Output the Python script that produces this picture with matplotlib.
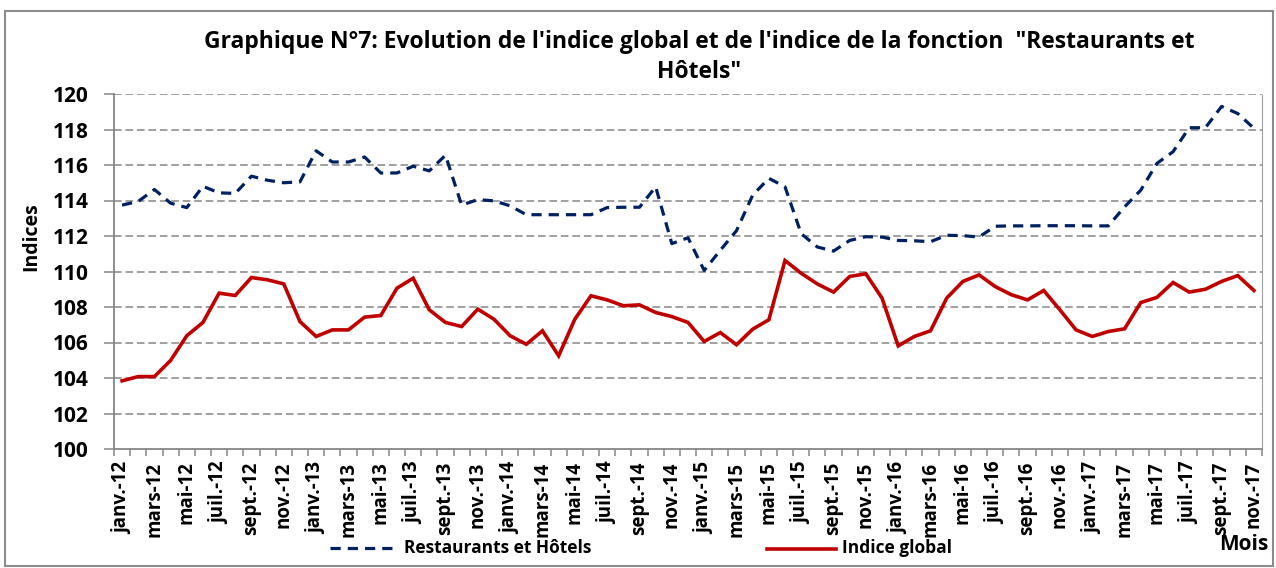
import matplotlib
matplotlib.use("Agg")
import matplotlib.pyplot as plt
from matplotlib.patches import Rectangle
from matplotlib.lines import Line2D

plt.rcParams['font.family'] = ['Open Sans', 'DejaVu Sans']

months = ["janv.", "févr.", "mars", "avr.", "mai", "juin", "juil.", "août", "sept.", "oct.", "nov.", "déc."]
years = ["12", "13", "14", "15", "16", "17"]
categories = [f"{m}-{y}" for y in years for m in months][:71]

restaurants = [
    113.74, 113.95, 114.62, 113.85, 113.6, 114.8, 114.43, 114.4, 115.37, 115.14, 115.0, 115.05,
    116.8, 116.17, 116.17, 116.45, 115.55, 115.55, 115.93, 115.67, 116.55, 113.74, 114.05, 113.98,
    113.7, 113.2, 113.2, 113.2, 113.2, 113.2, 113.6, 113.62, 113.62, 114.77, 111.57, 111.9,
    110.06, 111.2, 112.3, 114.3, 115.25, 114.77, 112.13, 111.38, 111.15, 111.75, 111.96, 111.94,
    111.75, 111.73, 111.68, 112.04, 112.02, 111.94, 112.55, 112.57, 112.57, 112.58, 112.58, 112.58,
    112.57, 112.57, 113.64, 114.58, 116.09, 116.75, 118.1, 118.1, 119.3, 118.9, 118.07,
]
indice_global = [
    103.84, 104.08, 104.08, 104.99, 106.38, 107.13, 108.78, 108.65, 109.66, 109.53, 109.3, 107.18,
    106.34, 106.71, 106.71, 107.43, 107.52, 109.06, 109.62, 107.84, 107.13, 106.9, 107.88, 107.31,
    106.38, 105.9, 106.66, 105.25, 107.31, 108.63, 108.4, 108.07, 108.12, 107.69, 107.46, 107.13,
    106.06, 106.56, 105.87, 106.75, 107.28, 110.62, 109.9, 109.3, 108.84, 109.72, 109.87, 108.5,
    105.81, 106.34, 106.66, 108.5, 109.44, 109.81, 109.15, 108.69, 108.4, 108.93, 107.84, 106.71,
    106.34, 106.62, 106.77, 108.25, 108.54, 109.38, 108.84, 109.0, 109.44, 109.77, 108.93,
]
yticks = list(range(100, 121, 2))

title = "Graphique N°7: Evolution de l'indice global et de l'indice de la fonction  \"Restaurants et\nHôtels\""

navy = "#002060"
red = "#C00000"
grid_gray = "#868686"

fig = plt.figure(figsize=(12.76, 5.68), dpi=100)
W, H = 1276, 568
ax = fig.add_axes([114 / W, 1 - 449 / H, (1262 - 114) / W, (449 - 94) / H])

x = list(range(len(categories)))
ax.plot(x, restaurants, color=navy, lw=2.3, linestyle=(0, (3.2, 2.2)), solid_capstyle='butt', dash_capstyle='butt')
ax.plot(x, indice_global, color=red, lw=2.6, solid_joinstyle='miter')

ax.set_xlim(-0.5, len(categories) - 0.5)
ax.set_ylim(100, 120)
ax.set_yticks(yticks)
ax.set_yticklabels([str(v) for v in yticks], fontsize=15, fontweight='bold')
for v in yticks[1:]:
    ax.axhline(v, color=grid_gray, lw=1.1, linestyle=(0, (5, 2.5)), zorder=0)

ax.set_xticks(x[::2])
ax.set_xticklabels(categories[::2], rotation=90, fontsize=13.5, fontweight='bold', va='top', ha='center')
ax.set_xticks([i - 0.5 for i in range(len(categories) + 1)], minor=True)
ax.tick_params(axis='x', which='major', length=0, pad=9)
ax.tick_params(axis='x', which='minor', length=5, color=grid_gray, width=1.1, direction='out')
ax.tick_params(axis='y', length=7, color=grid_gray, width=1.1, direction='out', pad=11)

for s in ['left', 'bottom']:
    ax.spines[s].set_color(grid_gray)
    ax.spines[s].set_linewidth(1.3)
ax.spines['top'].set_visible(False)
ax.spines['right'].set_color('#A0A0A0')
ax.spines['right'].set_linewidth(0.8)
ax.spines['right'].set_linestyle((0, (1, 1)))

ax.set_ylabel("Indices", fontsize=14, fontweight='bold')
ax.yaxis.set_label_coords(-(114 - 41) / (1262 - 114), (449 - 237) / (449 - 94))

fig.text(699 / W, 1 - 57 / H, title, ha='center', va='center', fontsize=16.5, fontweight='bold', linespacing=1.3)
fig.text(1244 / W, 1 - 545 / H, "Mois", ha='center', va='center', fontsize=15, fontweight='bold')

# legend
fig.add_artist(Line2D([330 / W, 397 / W], [1 - 548 / H] * 2, color=navy, lw=2.3, linestyle=(0, (3.2, 2.2))))
fig.text(404 / W, 1 - 548 / H, "Restaurants et Hôtels", ha='left', va='center', fontsize=12.5, fontweight='bold')
fig.add_artist(Line2D([767 / W, 836 / W], [1 - 549 / H] * 2, color=red, lw=2.6))
fig.text(842 / W, 1 - 548 / H, "Indice global", ha='left', va='center', fontsize=12.5, fontweight='bold')

fig.add_artist(Rectangle((5 / W, 1 - 566 / H), 1268 / W, 555 / H, transform=fig.transFigure,
                         fill=False, edgecolor='#8C8C8C', lw=1.5))

fig.savefig("out.png", dpi=100)
